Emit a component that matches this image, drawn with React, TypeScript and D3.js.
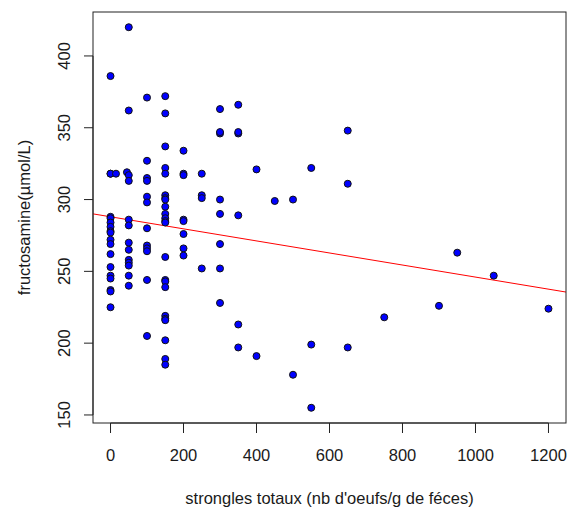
import React from "react";
import * as d3 from "d3";

const width = 571;
const height = 512;
const margin = { top: 12, right: 5, bottom: 89, left: 93 };

// strongles totaux (nb d'oeufs/g)
const eggCounts = [
  0, 0, 0, 0, 0, 0, 0, 0, 0, 0, 0, 0, 0, 0, 0, 0, 0, 0, 15,
  45, 50, 50, 50, 50, 50, 50, 50, 50, 50, 50, 50, 50, 50,
  100, 100, 100, 100, 100, 100, 100, 100, 100, 100, 100, 100,
  150, 150, 150, 150, 150, 150, 150, 150, 150, 150, 150, 150, 150, 150, 150, 150, 150, 150, 150, 150, 150, 150, 150,
  200, 200, 200, 200, 200, 200, 200, 200,
  250, 250, 250, 250,
  300, 300, 300, 300, 300, 300, 300, 300,
  350, 350, 350, 350, 350, 350,
  400, 400, 450, 500, 500, 550, 550, 550, 650, 650, 650,
  750, 900, 950, 1050, 1200,
];

// fructosamine (µmol/L)
const fructosamine = [
  386, 318, 288, 287, 284, 281, 278, 277, 272, 269, 262, 253, 247, 245, 237, 236, 225, 318, 318,
  319, 420, 362, 317, 313, 286, 282, 270, 265, 258, 256, 254, 247, 240,
  371, 327, 315, 313, 302, 298, 280, 268, 266, 264, 244, 205,
  372, 360, 337, 322, 318, 303, 301, 295, 290, 287, 285, 260, 244, 243, 239, 219, 217, 216, 202, 189, 185, 300, 284,
  334, 318, 317, 286, 285, 276, 266, 261,
  318, 303, 301, 252,
  363, 346, 347, 290, 269, 252, 228, 300,
  366, 346, 289, 213, 197, 347,
  321, 191, 299, 300, 178, 322, 199, 155, 348, 311, 197,
  218, 226, 263, 247, 224,
];

const xTicks = [0, 200, 400, 600, 800, 1000, 1200];
const yTicks = [150, 200, 250, 300, 350, 400];

// abline(lm(fructosamine ~ strongles))
const intercept = 288;
const slope = -0.042;

const xLabel = "strongles totaux (nb d'oeufs/g de féces)";
const yLabel = "fructosamine(µmol/L)";

export default function App() {
  const x = d3
    .scaleLinear()
    .domain([-48, 1248])
    .range([margin.left, width - margin.right]);
  const y = d3
    .scaleLinear()
    .domain([144.4, 430.6])
    .range([height - margin.bottom, margin.top]);

  const points = eggCounts.map((d, i) => ({ x: d, y: fructosamine[i] }));

  const [x0, x1] = x.domain();
  const fit = d3
    .line<number>()
    .x((d) => x(d))
    .y((d) => y(intercept + slope * d))([x0, x1]);

  const bottom = height - margin.bottom;
  const font = "'Liberation Sans', Arial, sans-serif";
  const textColor = "#1a1a1a";

  return (
    <svg
      width={width}
      height={height}
      style={{ position: "absolute", left: 0, top: 0, background: "#fff" }}
      fontFamily={font}
      fontSize={16.5}
    >
      <rect width={width} height={height} fill="#fff" />

      {/* x axis */}
      <g>
        <line
          x1={x(xTicks[0])}
          x2={x(xTicks[xTicks.length - 1])}
          y1={bottom}
          y2={bottom}
          stroke="#222"
        />
        {xTicks.map((t) => (
          <g key={t} transform={`translate(${x(t)},0)`}>
            <line y1={bottom} y2={bottom + 10} stroke="#222" />
            <text y={461} textAnchor="middle" fill={textColor}>
              {t}
            </text>
          </g>
        ))}
        <text x={(margin.left + width - margin.right) / 2} y={504} textAnchor="middle" fill={textColor}>
          {xLabel}
        </text>
      </g>

      {/* y axis */}
      <g>
        <line
          x1={margin.left}
          x2={margin.left}
          y1={y(yTicks[0])}
          y2={y(yTicks[yTicks.length - 1])}
          stroke="#222"
        />
        {yTicks.map((t) => (
          <g key={t}>
            <line x1={margin.left - 9} x2={margin.left} y1={y(t)} y2={y(t)} stroke="#222" />
            <text
              transform={`translate(70,${y(t)}) rotate(-90)`}
              textAnchor="middle"
              fill={textColor}
            >
              {t}
            </text>
          </g>
        ))}
        <text
          transform={`translate(30,${(margin.top + bottom) / 2}) rotate(-90)`}
          textAnchor="middle"
          fill={textColor}
        >
          {yLabel}
        </text>
      </g>

      {/* regression line */}
      <defs>
        <clipPath id="plot-clip">
          <rect x={margin.left} y={margin.top} width={width - margin.right - margin.left} height={bottom - margin.top} />
        </clipPath>
      </defs>
      <path d={fit ?? ""} stroke="red" strokeWidth={1} fill="none" clipPath="url(#plot-clip)" />

      {/* points */}
      <g>
        {points.map((d, i) => (
          <circle key={i} cx={x(d.x)} cy={y(d.y)} r={3.5} fill="#0000ff" stroke="#111" strokeWidth={1} />
        ))}
      </g>

      {/* box */}
      <rect
        x={margin.left}
        y={margin.top}
        width={width - margin.right - margin.left}
        height={bottom - margin.top}
        fill="none"
        stroke="#222"
      />
    </svg>
  );
}
